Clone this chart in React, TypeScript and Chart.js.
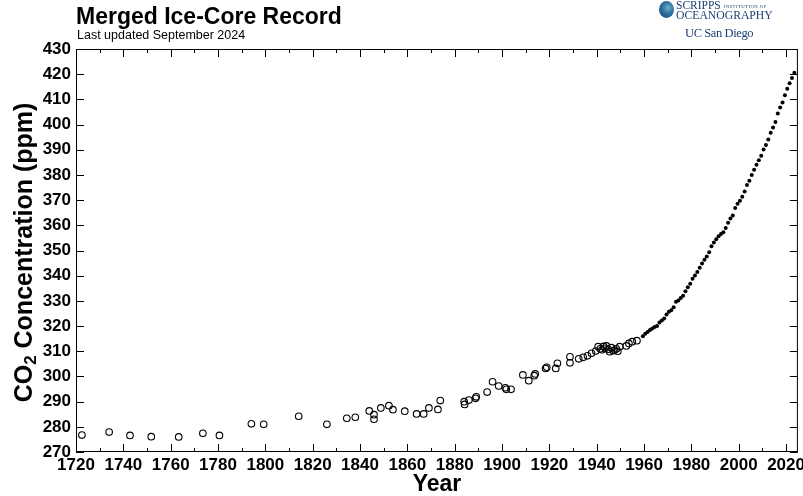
import React, { useEffect, useRef } from "react";
import { Chart, registerables } from "chart.js";

Chart.register(...registerables);

// Ice-core record (open circles)
const iceYears = [
  1722.5, 1734, 1742.8, 1751.8, 1763.4, 1773.6, 1780.6, 1794.1, 1799.3, 1814.1,
  1826, 1834.4, 1838, 1843.9, 1845.9, 1845.9, 1848.8, 1852.2, 1853.9, 1858.9,
  1863.9, 1866.9, 1869.1, 1872.9, 1873.9, 1884, 1884.2, 1886, 1888.8, 1889.1,
  1893.7, 1896, 1898.6, 1901.4, 1901.8, 1903.8, 1908.8, 1911.3, 1913.6, 1914,
  1918.4, 1918.9, 1922.7, 1923.4, 1928.7, 1928.7, 1932.4, 1934.3, 1936.1, 1937.8,
  1939.6, 1940.6, 1941.5, 1942.3, 1942.9, 1943.6, 1944.1, 1944.8, 1945.5, 1946.2,
  1946.9, 1947.6, 1948.3, 1948.9, 1949.7, 1952.5, 1953.6, 1955, 1957,
];
const icePpm = [
  276.7, 277.9, 276.6, 276.1, 276.0, 277.4, 276.6, 281.2, 281.0, 284.2,
  281.0, 283.4, 283.8, 286.3, 284.8, 283.0, 287.5, 288.4, 286.8, 286.2,
  285.1, 285.1, 287.5, 286.9, 290.4, 290.0, 288.9, 290.6, 291.3, 291.9,
  293.8, 297.9, 296.2, 295.5, 294.9, 294.9, 300.6, 298.3, 300.3, 301.0,
  303.2, 303.6, 303.2, 305.2, 307.8, 305.4, 307.0, 307.6, 308.2, 309.2,
  310.1, 311.8, 311.0, 310.6, 311.9, 311.2, 312.1, 310.8, 309.8, 311.4,
  310.2, 310.5, 311.0, 310.0, 311.8, 312.1, 313.1, 313.8, 314.2,
];

// Direct atmospheric record (filled dots), plotted at mid-year
const mloYears = [
  1959.5, 1960.5, 1961.5, 1962.5, 1963.5, 1964.5, 1965.5, 1966.5, 1967.5, 1968.5,
  1969.5, 1970.5, 1971.5, 1972.5, 1973.5, 1974.5, 1975.5, 1976.5, 1977.5, 1978.5,
  1979.5, 1980.5, 1981.5, 1982.5, 1983.5, 1984.5, 1985.5, 1986.5, 1987.5, 1988.5,
  1989.5, 1990.5, 1991.5, 1992.5, 1993.5, 1994.5, 1995.5, 1996.5, 1997.5, 1998.5,
  1999.5, 2000.5, 2001.5, 2002.5, 2003.5, 2004.5, 2005.5, 2006.5, 2007.5, 2008.5,
  2009.5, 2010.5, 2011.5, 2012.5, 2013.5, 2014.5, 2015.5, 2016.5, 2017.5, 2018.5,
  2019.5, 2020.5, 2021.5, 2022.5, 2023.5,
];
const mloPpm = [
  315.98, 316.91, 317.64, 318.45, 318.99, 319.62, 320.04, 321.37, 322.18, 323.05,
  324.62, 325.68, 326.32, 327.46, 329.68, 330.19, 331.13, 332.03, 333.84, 335.41,
  336.84, 338.76, 340.12, 341.48, 343.15, 344.87, 346.35, 347.61, 349.31, 351.69,
  353.2, 354.45, 355.7, 356.54, 357.21, 358.96, 360.97, 362.74, 363.88, 366.84,
  368.54, 369.71, 371.32, 373.45, 375.98, 377.7, 379.98, 382.09, 384.02, 385.83,
  387.64, 390.1, 391.85, 394.06, 396.74, 398.81, 401.01, 404.41, 406.76, 408.72,
  411.65, 414.21, 416.41, 418.53, 420.6,
];

const xMin = 1720;
const xMax = 2025;
const yMin = 270;
const yMax = 430;

const FONT = "'Liberation Sans', Arial, Helvetica, sans-serif";

const frameTicks = {
  id: "frameTicks",
  afterDatasetsDraw(chart: any) {
    const { ctx, chartArea } = chart;
    const xs = chart.scales.x;
    const ys = chart.scales.y;
    const { left, right, top, bottom } = chartArea;
    ctx.save();
    ctx.strokeStyle = "#000";
    ctx.lineWidth = 1;
    ctx.strokeRect(left + 0.5, top + 0.5, right - left - 1, bottom - top - 1);
    ctx.beginPath();
    for (let v = xMin; v <= xMax; v += 10) {
      const px = Math.round(xs.getPixelForValue(v)) + 0.5;
      const len = (v - xMin) % 20 === 0 ? 8 : 4;
      ctx.moveTo(px, bottom);
      ctx.lineTo(px, bottom - len);
      ctx.moveTo(px, top);
      ctx.lineTo(px, top + len);
    }
    for (let v = yMin; v <= yMax; v += 10) {
      const py = Math.round(ys.getPixelForValue(v)) + 0.5;
      ctx.moveTo(left, py);
      ctx.lineTo(left + 8, py);
      ctx.moveTo(right, py);
      ctx.lineTo(right - 8, py);
    }
    ctx.stroke();

    // Y-axis title with a true subscript
    const big = `bold 25px ${FONT}`;
    const small = `bold 17px ${FONT}`;
    const p1 = "CO";
    const p2 = "2";
    const p3 = " Concentration (ppm)";
    ctx.font = big;
    const w1 = ctx.measureText(p1).width;
    const w3 = ctx.measureText(p3).width;
    ctx.font = small;
    const w2 = ctx.measureText(p2).width;
    const total = w1 + w2 + w3;
    const cy = (top + bottom) / 2 + 2;
    ctx.translate(23, cy);
    ctx.rotate(-Math.PI / 2);
    ctx.fillStyle = "#000";
    ctx.textBaseline = "alphabetic";
    ctx.textAlign = "left";
    let x0 = -total / 2;
    ctx.font = big;
    ctx.fillText(p1, x0, 9);
    x0 += w1;
    ctx.font = small;
    ctx.fillText(p2, x0, 13);
    x0 += w2;
    ctx.font = big;
    ctx.fillText(p3, x0, 9);
    ctx.restore();
  },
};

export default function App() {
  const ref = useRef<HTMLCanvasElement | null>(null);

  useEffect(() => {
    if (!ref.current) return;
    const iceData = iceYears.map((x, i) => ({ x, y: icePpm[i] }));
    const mloData = mloYears.map((x, i) => ({ x, y: mloPpm[i] }));
    const chart = new Chart(ref.current, {
      type: "scatter",
      data: {
        datasets: [
          {
            label: "Ice core",
            data: iceData,
            pointStyle: "circle",
            pointRadius: 3.3,
            pointBackgroundColor: "rgba(0,0,0,0)",
            pointBorderColor: "#000",
            pointBorderWidth: 1.1,
          },
          {
            label: "Mauna Loa",
            data: mloData,
            pointStyle: "circle",
            pointRadius: 2,
            pointBackgroundColor: "#000",
            pointBorderColor: "#000",
            pointBorderWidth: 0,
          },
        ],
      },
      options: {
        responsive: false,
        animation: false,
        devicePixelRatio: 1,
        layout: { padding: { top: 49, right: 1, left: 0, bottom: 0 } },
        plugins: {
          legend: { display: false },
          tooltip: { enabled: false },
          title: { display: false },
        },
        scales: {
          x: {
            type: "linear",
            min: xMin,
            max: xMax,
            grid: { display: false, drawTicks: false },
            border: { display: false },
            ticks: {
              stepSize: 20,
              includeBounds: false,
              autoSkip: false,
              maxRotation: 0,
              padding: 3,
              color: "#000",
              font: { family: FONT, size: 17, weight: "bold" },
              callback: (v: any) => String(v),
            },
            title: {
              display: true,
              text: "Year",
              color: "#000",
              padding: { top: 0, bottom: 0 },
              font: { family: FONT, size: 23, weight: "bold", lineHeight: 1 },
            },
            afterFit: (s: any) => {
              s.height = 44;
              s.paddingLeft = 0;
              s.paddingRight = 0;
            },
          },
          y: {
            type: "linear",
            min: yMin,
            max: yMax,
            grid: { display: false, drawTicks: false },
            border: { display: false },
            ticks: {
              stepSize: 10,
              includeBounds: false,
              padding: 5,
              color: "#000",
              font: { family: FONT, size: 17, weight: "bold" },
              callback: (v: any) => String(v),
            },
            title: { display: false },
            afterFit: (s: any) => {
              s.width = 76;
              s.paddingTop = 0;
              s.paddingBottom = 0;
            },
          },
        },
      },
      plugins: [frameTicks],
    });
    return () => chart.destroy();
  }, []);

  return (
    <div
      style={{
        position: "absolute",
        left: 0,
        top: 0,
        width: 803,
        height: 496,
        background: "#fff",
        overflow: "hidden",
        fontFamily: FONT,
      }}
    >
      <canvas ref={ref} width={803} height={496} style={{ display: "block" }} />
      <div
        style={{
          position: "absolute",
          left: 76,
          top: 5,
          fontSize: 23,
          fontWeight: "bold",
          lineHeight: "23px",
          color: "#000",
          whiteSpace: "nowrap",
        }}
      >
        Merged Ice-Core Record
      </div>
      <div
        style={{
          position: "absolute",
          left: 77,
          top: 29,
          fontSize: 12.5,
          lineHeight: "13px",
          color: "#000",
          whiteSpace: "nowrap",
        }}
      >
        Last updated September 2024
      </div>
      <div
        style={{
          position: "absolute",
          left: 659,
          top: 1,
          width: 15,
          height: 17,
          borderRadius: "50%",
          background:
            "radial-gradient(circle at 60% 40%, #6fb0c8 0%, #2a6f9a 45%, #123e74 100%)",
        }}
      />
      <div
        style={{
          position: "absolute",
          left: 676,
          top: 1,
          fontFamily: "'Liberation Serif', 'DejaVu Serif', serif",
          color: "#1b3f73",
          whiteSpace: "nowrap",
          lineHeight: "9px",
        }}
      >
        <div style={{ fontSize: 11.5 }}>
          SCRIPPS{" "}
          <span style={{ fontSize: 4.8, letterSpacing: 0.4, verticalAlign: "middle" }}>
            INSTITUTION OF
          </span>
        </div>
        <div style={{ fontSize: 11.7 }}>OCEANOGRAPHY</div>
      </div>
      <div
        style={{
          position: "absolute",
          left: 685,
          top: 26,
          fontFamily: "'Liberation Serif', 'DejaVu Serif', serif",
          fontSize: 12.5,
          lineHeight: "14px",
          color: "#1b3f73",
          whiteSpace: "nowrap",
          letterSpacing: -0.4,
        }}
      >
        UC San Diego
      </div>
    </div>
  );
}
